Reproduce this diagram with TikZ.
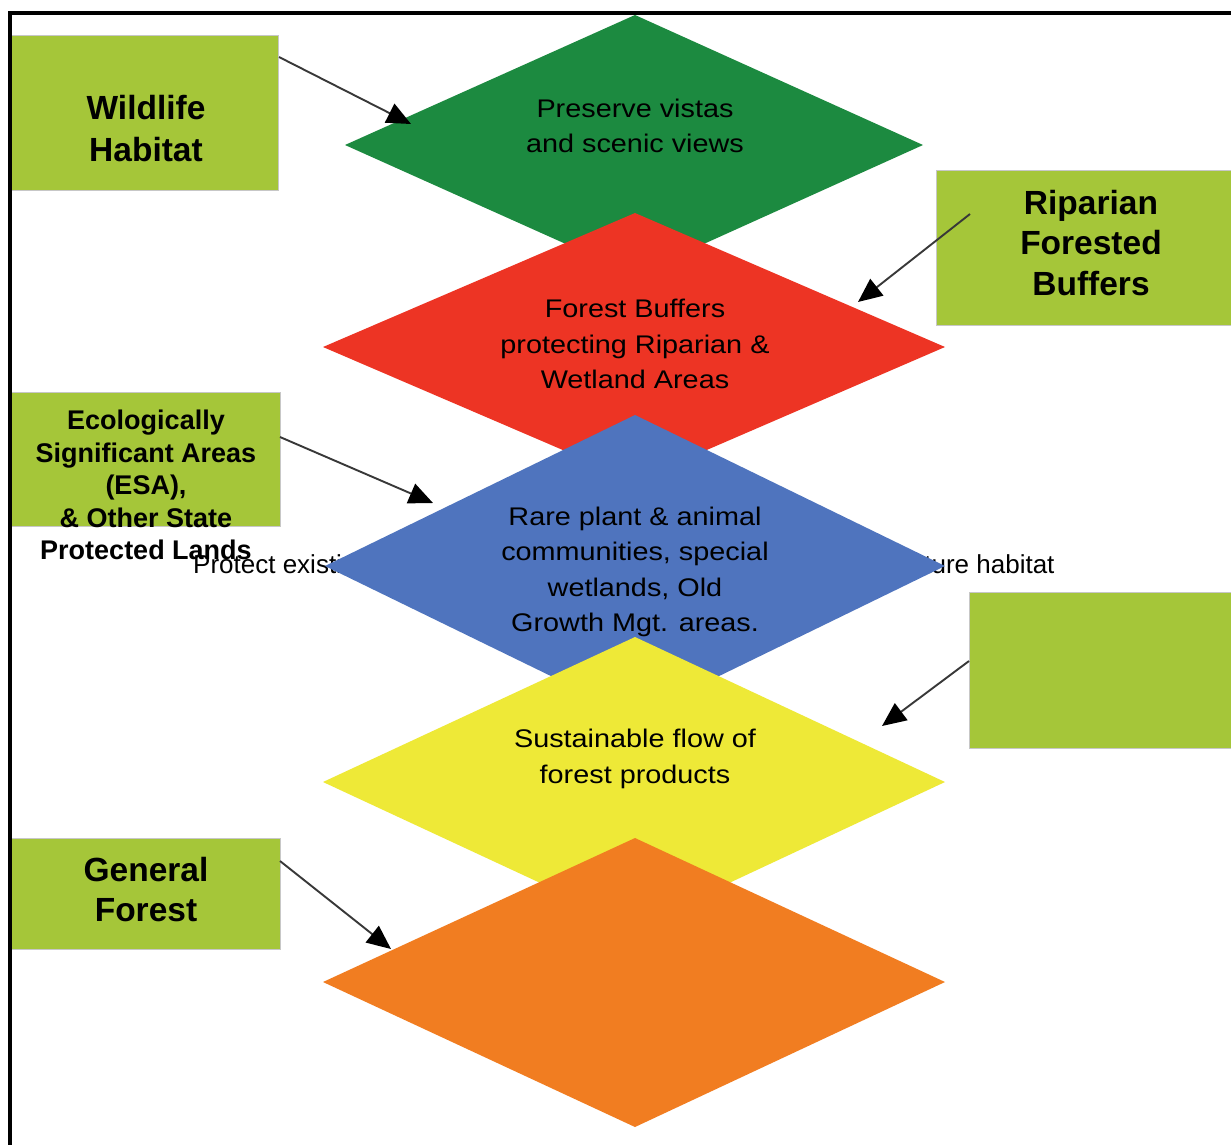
\documentclass[tikz,border=0pt]{standalone}
\usepackage{fontspec}
\setmainfont{Liberation Sans}
\newfontfamily\diamfont[FakeStretch=1.13]{Liberation Sans}
\usetikzlibrary{arrows.meta}
\definecolor{boxgreen}{RGB}{165,198,57}
\definecolor{dgreen}{RGB}{28,138,64}
\definecolor{dred}{RGB}{237,52,36}
\definecolor{dblue}{RGB}{79,116,190}
\definecolor{dyellow}{RGB}{238,233,55}
\definecolor{dorange}{RGB}{241,125,33}
\begin{document}
\begin{tikzpicture}[x=1pt,y=-1pt,
  gbox/.style={fill=boxgreen, draw=black!22, line width=0.8pt},
  boxtext/.style={font=\bfseries\fontsize{33.5}{42}\selectfont, align=center, inner sep=0pt},
  esatext/.style={font=\bfseries\fontsize{27}{32.5}\selectfont, align=center, inner sep=0pt},
  dtext/.style={font=\diamfont\fontsize{25.5}{35.5}\selectfont, align=center, inner sep=0pt},
  link/.style={draw=black!78, line width=1.9pt, -{Triangle[length=24pt,width=21pt,color=black]}}]
\useasboundingbox (0,0) rectangle (1231,1144);
\fill[white] (0,0) rectangle (1231,1144);

% diamonds
\fill[dgreen] (635,15) -- (923,145) -- (635,275) -- (345,145) -- cycle;
\node[dtext] (tgreen) at (635,126) {Preserve vistas\\and scenic views};
\fill[dred] (635,213) -- (945,347) -- (635,481) -- (323,347) -- cycle;
\node[dtext] (tred) at (635,344) {Forest Buffers\\protecting Riparian \&\\Wetland Areas};
\node[font=\fontsize{26}{32}\selectfont, inner sep=0pt, anchor=west] (protect) at (193,567) {Protect existing wildlife habitat and restore or create new and future habitat};
\fill[dblue] (635,415) -- (945,566) -- (635,717) -- (325,566) -- cycle;
\node[dtext] (tblue) at (635,572) {Rare plant \& animal\\communities, special\\wetlands, Old\\Growth Mgt. areas.};
\fill[dyellow] (635,637) -- (945,782) -- (635,927) -- (323,782) -- cycle;
\node[dtext] (tyellow) at (635,759) {Sustainable flow of\\forest products};
\fill[dorange] (635,838) -- (945,982) -- (635,1127) -- (323,982) -- cycle;

% boxes
\path[gbox] (10,35) rectangle (278,190);
\node[boxtext] (wild) at (146,129) {Wildlife\\Habitat};
\path[gbox] (936,170) rectangle (1232,325);
\node[boxtext, font=\bfseries\fontsize{33.5}{40.5}\selectfont] (rip) at (1091,243) {Riparian\\Forested\\Buffers};
\path[gbox] (10,392) rectangle (280,526);
\node[esatext] (esa) at (146,485) {Ecologically\\Significant Areas\\(ESA),\\\& Other State\\Protected Lands};
\path[gbox] (969,592) rectangle (1232,748);
\path[gbox] (10,838) rectangle (280,949);
\node[boxtext, font=\bfseries\fontsize{33.5}{40}\selectfont] (gen) at (146,890) {General\\Forest};

% arrow end points
\coordinate (a1s) at (279,57);  \coordinate (a1e) at (411,124);
\coordinate (a2s) at (970,214); \coordinate (a2e) at (858,302);
\coordinate (a3s) at (280,437); \coordinate (a3e) at (433,503);
\coordinate (a4s) at (969,661); \coordinate (a4e) at (882,726);
\coordinate (a5s) at (280,861); \coordinate (a5e) at (391,949);
\draw[link] (a1s) -- (a1e);
\draw[link] (a2s) -- (a2e);
\draw[link] (a3s) -- (a3e);
\draw[link] (a4s) -- (a4e);
\draw[link] (a5s) -- (a5e);

% frame
\draw[line width=3.5pt] (1232,13) -- (10,13) -- (10,1145);
\end{tikzpicture}
\end{document}
